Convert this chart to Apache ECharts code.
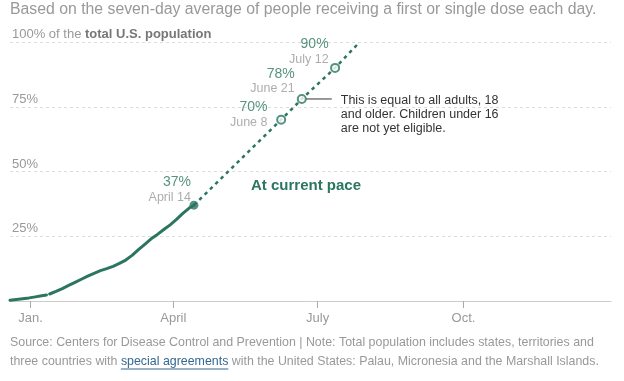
<!DOCTYPE html>
<html><head><meta charset="utf-8">
<script src="https://cdn.jsdelivr.net/npm/echarts@6/dist/echarts.min.js"></script>
<style>html,body{margin:0;padding:0;background:#fff}#c{width:624px;height:381px}</style>
</head><body><div id="c"></div>
<script>
// ---- data ----
const actualDates = ['2020-12-19','2020-12-23','2020-12-27','2020-12-31','2021-01-04','2021-01-08','2021-01-11','2021-01-12','2021-01-13','2021-01-17','2021-01-21','2021-01-25','2021-01-29','2021-02-02','2021-02-06','2021-02-10','2021-02-14','2021-02-18','2021-02-22','2021-02-26','2021-03-02','2021-03-06','2021-03-10','2021-03-14','2021-03-18','2021-03-22','2021-03-26','2021-03-30','2021-04-03','2021-04-07','2021-04-11','2021-04-14'];
const actualValues = [0.3,0.6,0.9,1.2,1.6,2.0,2.3,null,2.7,3.7,4.8,6.0,7.2,8.4,9.6,10.7,11.7,12.5,13.4,14.5,15.8,17.6,19.8,21.9,24.0,25.7,27.6,29.4,31.5,33.8,35.9,37.0];
const projDates = ['2021-04-14','2021-06-08','2021-06-21','2021-07-12','2021-07-26'];
const projValues = [37,70,78,90,99];
const milestoneDates = ['2021-06-08','2021-06-21','2021-07-12'];
const milestoneValues = [70,78,90];
const milestoneLabels = ['June 8','June 21','July 12'];
const todayDate = '2021-04-14';
const todayValue = 37;
const todayLabel = 'April 14';
const yTickValues = [0,25,50,75,100];
const xTickDates = ['2021-01-01','2021-04-01','2021-07-01','2021-10-01'];
const xTickLabels = ['Jan.','April','July','Oct.'];
const xMinDate = '2020-12-19';
const xMaxDate = '2022-01-02';

// ---- style ----
const F = "'Liberation Sans',Arial,sans-serif";
const GREEN = '#2b7660';
const GREY = '#999';
const ts = s => Date.UTC(+s.slice(0,4), +s.slice(5,7)-1, +s.slice(8,10));
const pct = v => v + '%';
const xTickTs = xTickDates.map(ts);

const chart = echarts.init(document.getElementById('c'), null, {renderer:'canvas'});

const labelOffsets = [[-8.7,14.7],[-2,2],[-1.5,3.3]];
const richLbl = {
  p:{fontFamily:F,fontSize:14,color:GREEN,lineHeight:16,align:'right'},
  d:{fontFamily:F,fontSize:12.5,color:GREY,lineHeight:14,align:'right'}
};

chart.setOption({
  animation:false,
  grid:{left:10,right:13,top:42,bottom:80,containLabel:false},
  xAxis:{
    type:'value', min:ts(xMinDate), max:ts(xMaxDate),
    axisLine:{show:true,onZero:false,lineStyle:{color:'#ccc',width:1}},
    axisTick:{show:true,length:7,lineStyle:{color:'#aaa'},customValues:xTickTs},
    axisLabel:{customValues:xTickTs,fontFamily:F,fontSize:13,color:GREY,margin:11,
      formatter:v=>{const i=xTickTs.indexOf(v);return i>=0?xTickLabels[i]:'';}},
    splitLine:{show:false}
  },
  yAxis:{
    type:'value', min:yTickValues[0], max:yTickValues[yTickValues.length-1], interval:25,
    axisLine:{show:false}, axisTick:{show:false},
    splitLine:{show:true,lineStyle:{color:'#ddd',type:[3,3],width:1}},
    axisLabel:{inside:true,margin:2,verticalAlign:'bottom',padding:[0,0,1,0],
      fontFamily:F,fontSize:13,color:GREY,
      formatter:v=>v===0?'':(v===100?'{n|100% of the }{b|total U.S. population}':pct(v)),
      rich:{n:{fontFamily:F,fontSize:13,color:GREY},b:{fontFamily:F,fontSize:13,color:'#777',fontWeight:'bold'}}}
  },
  series:[
    {type:'line',name:'actual',data:actualDates.map((d,i)=>[ts(d),actualValues[i]]),
     showSymbol:false,symbol:'none',connectNulls:false,
     lineStyle:{color:GREEN,width:3,cap:'round',join:'round'},z:3},
    {type:'line',name:'projection',data:projDates.map((d,i)=>[ts(d),projValues[i]]),
     showSymbol:false,symbol:'none',
     lineStyle:{color:GREEN,width:2.5,type:[3.5,4]},z:2},
    {type:'scatter',name:'milestones',symbol:'circle',symbolSize:8,z:5,
     itemStyle:{color:'#fff',borderColor:GREEN,borderWidth:2},
     data:milestoneDates.map((d,i)=>({value:[ts(d),milestoneValues[i]],
       label:{show:true,position:labelOffsets[i],align:'right',verticalAlign:'bottom',
         formatter:'{p|'+pct(milestoneValues[i])+'}\n{d|'+milestoneLabels[i]+'}',rich:richLbl}}))},
    {type:'scatter',name:'today',symbol:'circle',symbolSize:9,z:6,
     itemStyle:{color:GREEN},
     data:[{value:[ts(todayDate),todayValue],
       label:{show:true,position:[1.5,3.5],align:'right',verticalAlign:'bottom',
         formatter:'{p|'+pct(todayValue)+'}\n{d|'+todayLabel+'}',rich:richLbl}}]}
  ]
});

// measure helper
const mctx = document.createElement('canvas').getContext('2d');
function tw(t, font){ mctx.font = font; return mctx.measureText(t).width; }

const p21 = chart.convertToPixel({xAxisIndex:0,yAxisIndex:0},[ts(milestoneDates[1]),milestoneValues[1]]);
const FS = 12.4;
const footFont = FS + "px " + F;
const foot2a = 'three countries with ';
const foot2b = 'special agreements';
const foot2c = ' with the United States: Palau, Micronesia and the Marshall Islands.';
const ux0 = 10 + tw(foot2a, footFont);
const ux1 = ux0 + tw(foot2b, footFont);

chart.setOption({graphic:{elements:[
  {type:'text',left:10,top:2,style:{text:'Based on the seven-day average of people receiving a first or single dose each day.',
    fontFamily:F,fontSize:15.8,fill:'#999'}},
  {type:'text',x:251,y:186,style:{text:'At current pace',fontFamily:F,fontSize:15,fontWeight:'bold',fill:GREEN,textVerticalAlign:'middle'}},
  {type:'line',shape:{x1:p21[0]+4,y1:p21[1],x2:p21[0]+30,y2:p21[1]},style:{stroke:'#333',lineWidth:1}},
  {type:'text',x:p21[0]+39,y:p21[1]-5,style:{text:'This is equal to all adults, 18\nand older. Children under 16\nare not yet eligible.',
    fontFamily:F,fontSize:12.5,lineHeight:14,fill:'#333',textVerticalAlign:'top'}},
  {type:'text',x:10,y:343,style:{text:'Source: Centers for Disease Control and Prevention | Note: Total population includes states, territories and',
    fontFamily:F,fontSize:FS,fill:GREY,textVerticalAlign:'middle'}},
  {type:'text',x:10,y:362,style:{text:'{a|'+foot2a+'}{l|'+foot2b+'}{a|'+foot2c+'}',
    fontFamily:F,fontSize:FS,fill:GREY,textVerticalAlign:'middle',
    rich:{a:{fontFamily:F,fontSize:FS,fill:GREY},l:{fontFamily:F,fontSize:FS,fill:'#326891'}}}},
  {type:'line',shape:{x1:ux0,y1:369,x2:ux1,y2:369},style:{stroke:'#326891',lineWidth:1}}
]}});
</script></body></html>
